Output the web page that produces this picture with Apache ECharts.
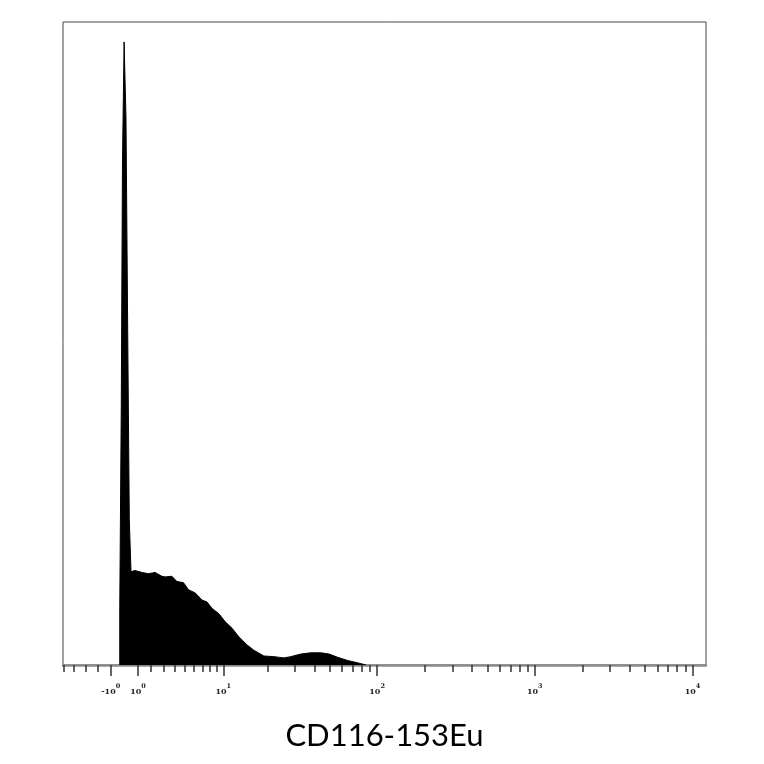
<!DOCTYPE html>
<html>
<head>
<meta charset="utf-8">
<script src="https://cdn.jsdelivr.net/npm/echarts@6/dist/echarts.min.js"></script>
<style>
html,body{margin:0;padding:0;background:#fff;}
#chart{width:764px;height:764px;}
</style>
</head>
<body>
<div id="chart"></div>
<script>
// Fluorescence values (raw, linear) along the histogram outline
const xValues = [-0.337, -0.337, -0.227, -0.227, -0.139, -0.139, -0.02, -0.02, 0.117, 0.117,
  0.242, 0.242, 0.360, 0.360, 0.485, 0.485, 0.780, 1.282, 1.788, 2.319, 2.873, 3.155, 3.753,
  4.221, 4.875, 5.401, 6.151, 6.961, 7.609, 8.297, 9.274, 10.356, 11.538, 12.811, 14.607,
  16.171, 18.836, 21.908, 25.45, 28.12, 32.63, 37.84, 43.87, 49.58, 56.11, 65.00, 73.43,
  79.03, 85.06];
// Event counts (% of axis maximum)
const counts = [0, 8.9, 8.9, 40.3, 40.3, 78.2, 78.2, 96.9, 96.9, 85.1,
  85.1, 52.1, 52.1, 22.6, 22.6, 14.5, 14.7, 14.4, 14.2, 14.4, 13.8, 13.7, 13.8,
  13.0, 12.8, 11.7, 11.2, 10.1, 9.8, 8.8, 8.0, 6.7, 5.7, 4.4, 3.1,
  2.3, 1.4, 1.3, 1.1, 1.3, 1.7, 1.9, 1.9, 1.7, 1.2, 0.7, 0.4,
  0.2, 0];
// Axis ticks (raw values)
const majorTicks = [-1, 1, 10, 100, 1000, 10000];
const majorLabelBase = ['-10', '10', '10', '10', '10', '10'];
const majorLabelExp = ['0', '0', '1', '2', '3', '4'];
const minorTicks = [-5, -4, -3, -2, 2, 3, 4, 5, 6, 7, 8, 9,
  20, 30, 40, 50, 60, 70, 80, 90, 200, 300, 400, 500, 600, 700, 800, 900,
  2000, 3000, 4000, 5000, 6000, 7000, 8000, 9000];
const axisTitle = 'CD116-153Eu';

// arcsinh display transform (biexponential-like)
const T = v => Math.asinh(v / 5);
const xMin = -0.896, xMax = 8.491;

const chart = echarts.init(document.getElementById('chart'), null, {renderer: 'canvas'});
const option = {
  animation: false,
  backgroundColor: '#fff',
  grid: {left: 63, right: 58, top: 22, bottom: 99, show: true, borderColor: '#444', borderWidth: 1, backgroundColor: 'transparent'},
  xAxis: [
    {
      type: 'value', min: xMin, max: xMax, position: 'bottom',
      splitLine: {show: false},
      axisLine: {show: true, lineStyle: {color: '#8a8a8a', width: 2.5}},
      axisTick: {show: true, customValues: majorTicks.map(T), length: 11, lineStyle: {color: '#333', width: 1.5}},
      axisLabel: {
        show: true, customValues: majorTicks.map(T), margin: 18,
        formatter: function (val) {
          for (let i = 0; i < majorTicks.length; i++) {
            if (Math.abs(T(majorTicks[i]) - val) < 1e-6) {
              return '{b|' + majorLabelBase[i] + '}{s|' + majorLabelExp[i] + '}';
            }
          }
          return '';
        },
        rich: {
          b: {fontFamily: 'DejaVu Serif', fontWeight: 'bold', fontSize: 8, color: '#222', lineHeight: 13, verticalAlign: 'bottom'},
          s: {fontFamily: 'DejaVu Serif', fontWeight: 'bold', fontSize: 6.5, color: '#222', verticalAlign: 'top'}
        }
      },
      name: axisTitle, nameLocation: 'middle', nameGap: 55,
      nameTextStyle: {fontFamily: 'Lato', fontSize: 31, color: '#000'}
    },
    {
      type: 'value', min: xMin, max: xMax, position: 'bottom',
      splitLine: {show: false},
      axisLine: {show: false},
      axisTick: {show: true, customValues: minorTicks.map(T), length: 7, lineStyle: {color: '#333', width: 1.5}},
      axisLabel: {show: false}
    }
  ],
  yAxis: {type: 'value', min: 0, max: 100, show: false, splitLine: {show: false}},
  series: [{
    type: 'line', xAxisIndex: 0,
    data: xValues.map((v, i) => [T(v), counts[i]]),
    showSymbol: false, symbol: 'none',
    lineStyle: {color: '#000', width: 1},
    areaStyle: {color: '#000', opacity: 1}
  }]
};
chart.setOption(option);
</script>
</body>
</html>
